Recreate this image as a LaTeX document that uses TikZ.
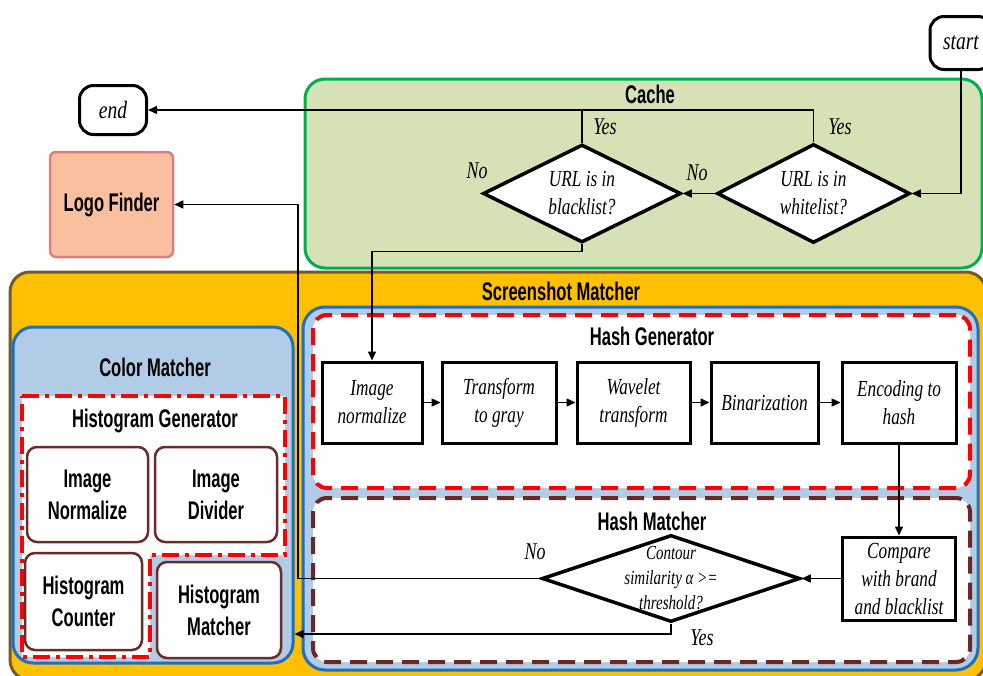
\documentclass[tikz,border=0pt]{standalone}
\usepackage{fontspec}
\usetikzlibrary{arrows.meta,shapes.geometric,calc}
\newfontfamily\sansc[FakeStretch=0.65]{Liberation Sans}
\newfontfamily\serifc[FakeStretch=0.75]{Liberation Serif}
\newfontfamily\termfont[FakeStretch=0.78]{Liberation Serif}

\definecolor{cacheFill}{HTML}{D4E2B6}
\definecolor{cacheLine}{HTML}{00B050}
\definecolor{ssmFill}{HTML}{FFC000}
\definecolor{ssmLine}{HTML}{76592A}
\definecolor{blueFill}{HTML}{B0CCE6}
\definecolor{blueLine}{HTML}{1F6FBF}
\definecolor{logoFill}{HTML}{F9BF9F}
\definecolor{logoLine}{HTML}{D98080}
\definecolor{boxLine}{HTML}{6B2B2B}
\definecolor{hmLine}{HTML}{6E2525}
\definecolor{dashRed}{HTML}{FF0000}

\tikzset{
  panel/.style={draw, rounded corners=20pt, line width=3pt, inner sep=0pt},
  ttl/.style={font=\sansc\bfseries\fontsize{25.5}{28}\selectfont, inner sep=0pt},
  cbox/.style={draw=boxLine, fill=white, line width=2.5pt, rounded corners=10pt,
    align=center, inner sep=0pt,
    font=\sansc\bfseries\fontsize{25.5}{32}\selectfont},
  hbox/.style={draw=black, fill=white, line width=3pt, align=center, inner sep=0pt,
    font=\serifc\itshape\fontsize{23}{28}\selectfont},
  dia/.style={diamond, draw, fill=white, line width=3.5pt, inner sep=0pt},
  dtxt/.style={align=center, inner sep=0pt,
    font=\serifc\itshape\fontsize{23}{28}\selectfont},
  lbl/.style={inner sep=0pt, font=\serifc\itshape\fontsize{24}{28}\selectfont},
  term/.style={draw, fill=white, line width=3pt, rounded corners=14pt, inner sep=0pt,
    font=\termfont\itshape\fontsize{25}{28}\selectfont},
  ln/.style={line width=1.5pt},
  arr/.style={line width=1.5pt, -{Triangle[length=9pt,width=8pt]}}
}

\begin{document}
\begin{tikzpicture}[x=1pt,y=-1pt]
\useasboundingbox (0,0) rectangle (983,675);
\clip (0,0) rectangle (983,675);
\fill[white] (0,0) rectangle (983,675);

% ---- panels ----
\node[panel, draw=cacheLine, fill=cacheFill, minimum width=677pt, minimum height=189pt]
  (cache) at (643.5,173.5) {};
\node[panel, draw=ssmLine, fill=ssmFill, minimum width=976pt, minimum height=408pt]
  (ssm) at (498,476) {};
\node[panel, draw=blueLine, fill=blueFill, minimum width=280pt, minimum height=336pt]
  (cm) at (153,495) {};
\node[panel, draw=blueLine, fill=blueFill, rounded corners=22pt,
  minimum width=675pt, minimum height=363pt] (hc) at (640.5,488.5) {};
\node[panel, draw=dashRed, fill=white, line width=4pt, rounded corners=14pt,
  dash pattern=on 17pt off 9pt, minimum width=657pt, minimum height=173pt]
  (hg) at (641.5,401.5) {};
\node[panel, draw=hmLine, fill=white, line width=4pt, rounded corners=14pt,
  dash pattern=on 17pt off 9pt, minimum width=657pt, minimum height=164pt]
  (hm) at (641.5,580) {};
% histogram generator outline (L-shaped)
\draw[draw=dashRed, fill=white, line width=4pt, dash pattern=on 17pt off 6pt on 4pt off 6pt]
  (22,396) -- (285,396) -- (285,555) -- (150,555) -- (150,657) -- (22,657) -- cycle;

% ---- titles ----
\node[ttl] (tcache) at (650,94) {Cache};
\node[ttl] (tssm) at (561,291) {Screenshot Matcher};
\node[ttl] (thg) at (652,336) {Hash Generator};
\node[ttl] (thm) at (652,521) {Hash Matcher};
\node[ttl] (tcm) at (155,367) {Color Matcher};
\node[ttl] (thist) at (155,421) {Histogram Generator};

% ---- terminals and logo finder ----
\node[term, minimum width=62pt, minimum height=53pt] (start) at (961,43) {start};
\node[term, minimum width=67pt, minimum height=49pt] (end) at (113,110) {end};
\node[draw=logoLine, fill=logoFill, line width=2.5pt, rounded corners=6pt, inner sep=0pt,
  minimum width=123pt, minimum height=105pt,
  font=\sansc\bfseries\fontsize{25.5}{28}\selectfont] (logo) at (111.5,204.5) {Logo Finder};

% ---- cache decisions ----
\node[dia, minimum width=193pt, minimum height=99pt,
  label={[dtxt]center:{URL is in\\whitelist?}}] (wl) at (813.5,193.5) {};
\node[dia, minimum width=198pt, minimum height=98pt,
  label={[dtxt]center:{URL is in\\blacklist?}}] (bl) at (582,193.5) {};

% ---- color matcher ----
\node[cbox, minimum width=121pt, minimum height=95pt] (cin) at (87.5,494.5) {Image\\Normalize};
\node[cbox, minimum width=122pt, minimum height=95pt] (cid) at (216,494.5) {Image\\Divider};
\node[cbox, minimum width=117pt, minimum height=97pt] (chc) at (83.5,601.5) {Histogram\\Counter};
\node[cbox, minimum width=124pt, minimum height=96pt] (chm) at (219,610) {Histogram\\Matcher};

% ---- hash generator ----
\node[hbox, minimum width=100pt, minimum height=81pt] (h1) at (372,402.5) {Image\\normalize};
\node[hbox, minimum width=114pt, minimum height=81pt] (h2) at (499,402.5) {Transform\\to gray};
\node[hbox, minimum width=113pt, minimum height=81pt] (h3) at (633.5,402.5) {Wavelet\\transform};
\node[hbox, minimum width=107pt, minimum height=81pt] (h4) at (764.5,402.5) {Binarization};
\node[hbox, minimum width=114pt, minimum height=81pt] (h5) at (899,402.5) {Encoding to\\hash};

% ---- hash matcher ----
\node[hbox, minimum width=113pt, minimum height=83pt] (cmp) at (899,578.5)
  {Compare\\with brand\\and blacklist};
\node[dia, minimum width=258pt, minimum height=87pt,
  label={[dtxt, font=\serifc\itshape\fontsize{20}{25}\selectfont]center:{Contour\\similarity α >=\\threshold?}}]
  (ct) at (671,578.5) {};

% ---- connectors ----
\coordinate (lbend) at (298,0);
\draw[arr] (start.south) |- (wl.east);
\draw[arr] (wl.west) -- (bl.east);
\draw[arr] (wl.north) |- (end.east);
\draw[ln] (bl.north) -- (bl.north |- end.east);
\draw[arr] (bl.south) -- ++(0,7) -| (h1.north);
\draw[arr] (h1) -- (h2);
\draw[arr] (h2) -- (h3);
\draw[arr] (h3) -- (h4);
\draw[arr] (h4) -- (h5);
\draw[arr] (h5.south) -- (h5.south |- cmp.north);
\draw[arr] (cmp.west) -- (ct.east);
\draw[arr] (ct.west) -| (lbend |- logo.east) -- (logo.east);
\draw[arr] (ct.south) |- (cm.east |- 0,634);

% ---- branch labels ----
\node[lbl] (yw) at (840,127) {Yes};
\node[lbl] (yb) at (605,127) {Yes};
\node[lbl] (nw) at (697,173) {No};
\node[lbl] (nb) at (477,171) {No};
\node[lbl] (nc) at (535,552) {No};
\node[lbl] (yc) at (702,638) {Yes};
\end{tikzpicture}
\end{document}
